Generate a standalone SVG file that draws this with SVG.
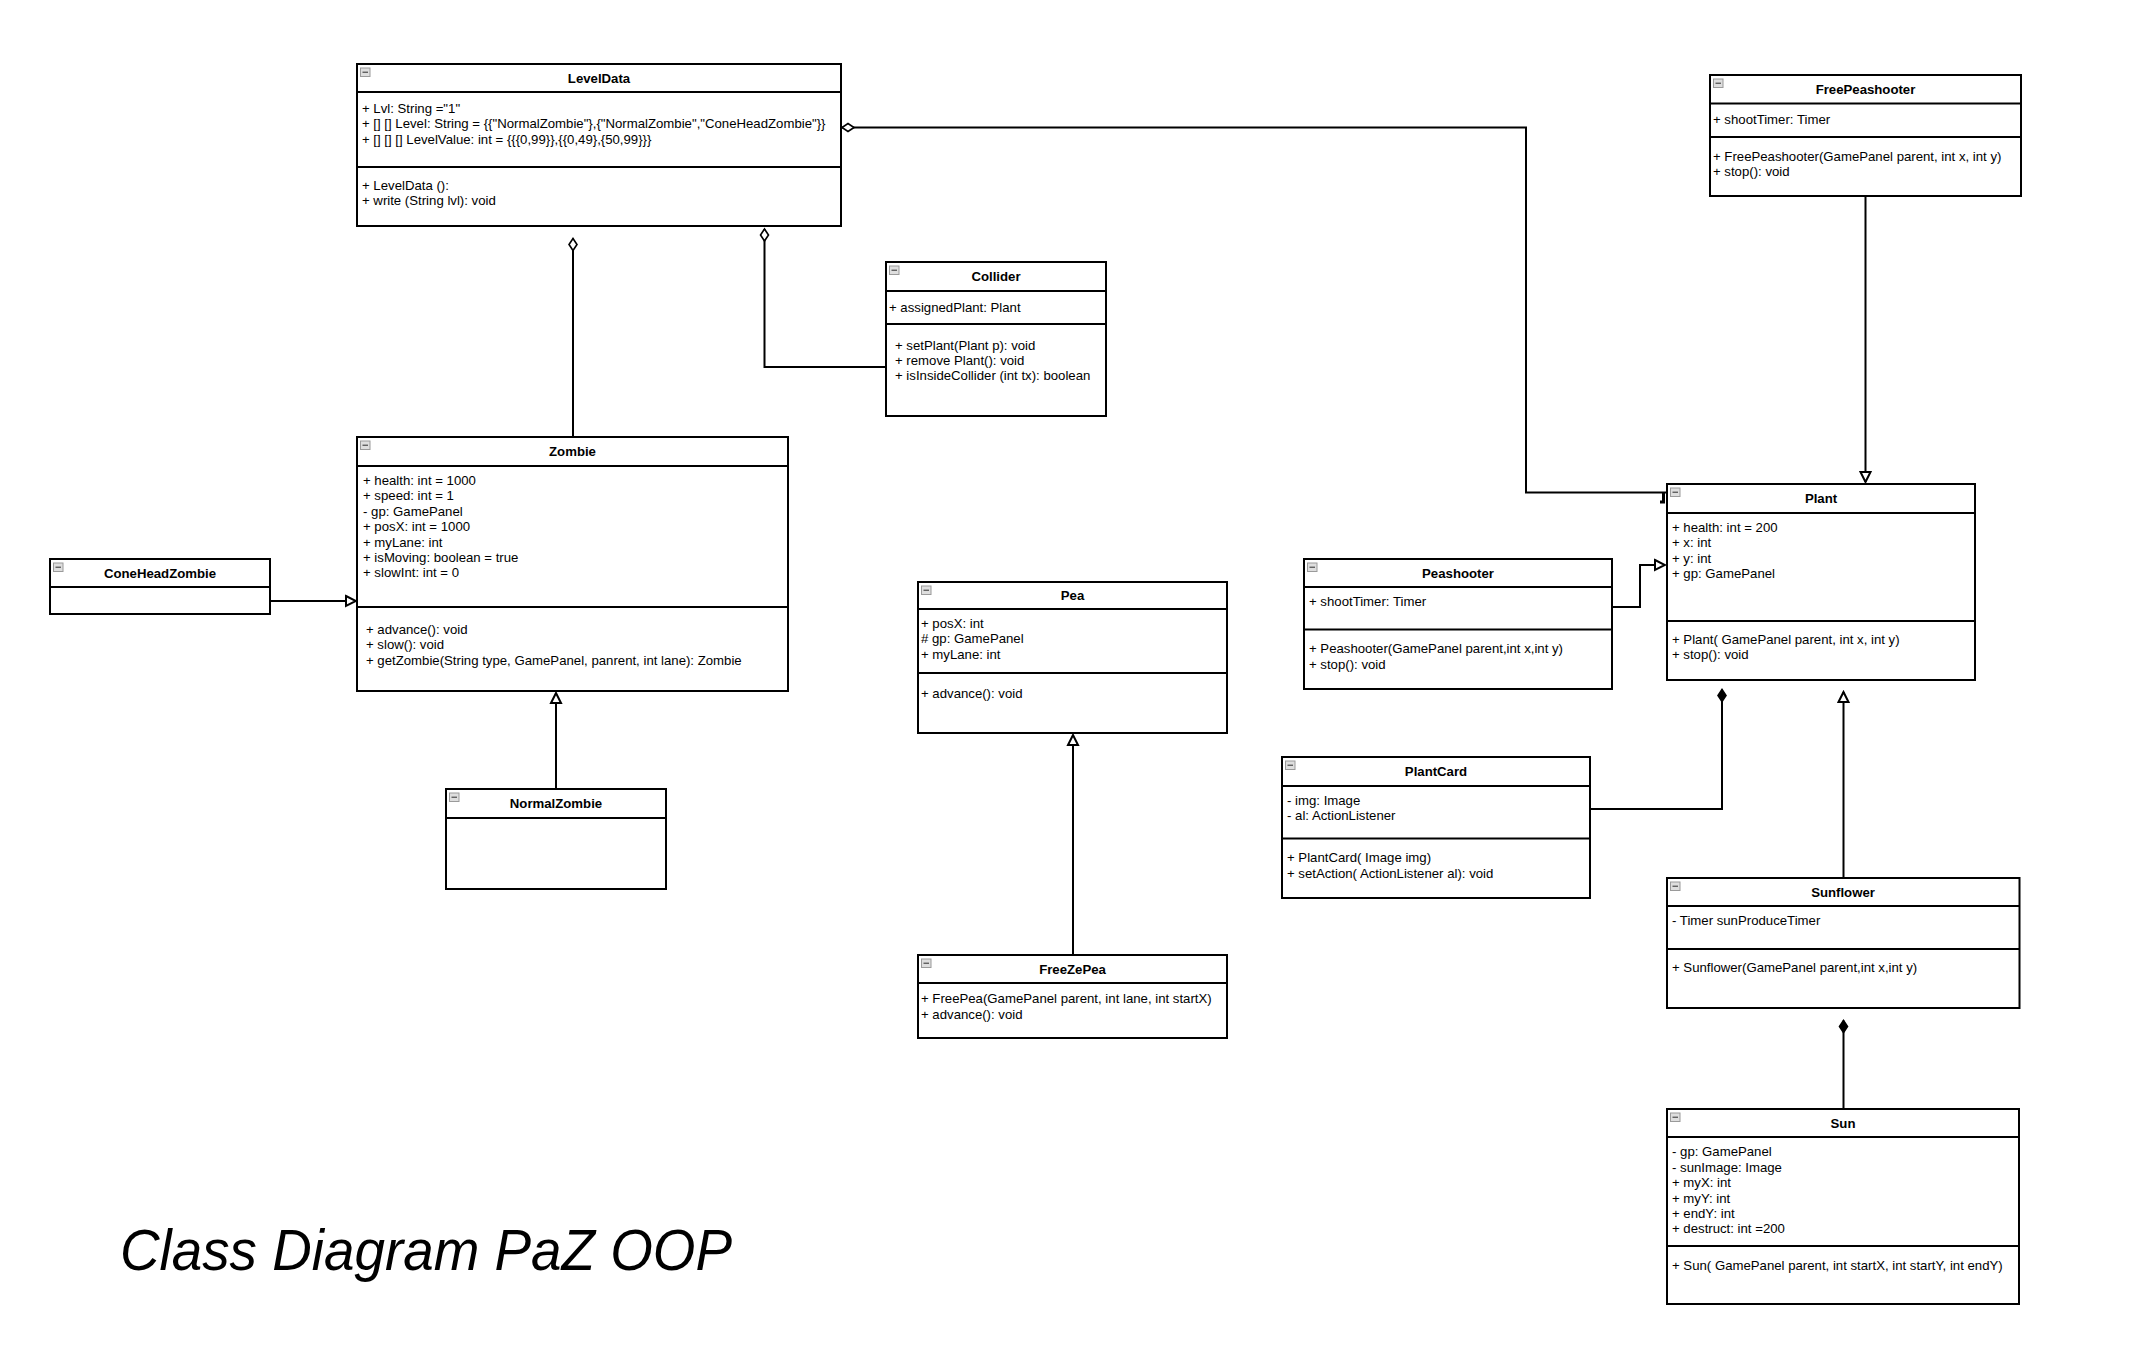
<svg xmlns="http://www.w3.org/2000/svg" width="2148" height="1372" viewBox="0 0 2148 1372">
<style>
.box{fill:#fff;stroke:#000;stroke-width:2}
.sep{stroke:#000;stroke-width:2}
.t{font-family:"Liberation Sans",Arial,sans-serif;font-size:13.2px;fill:#000}
.h{font-weight:bold;text-anchor:middle}
.edge{fill:none;stroke:#000;stroke-width:2}
.ttl{font-family:"Liberation Sans",Arial,sans-serif;font-size:57px;font-style:italic;fill:#000}
</style>
<defs>
<g id="icon"><rect x="0" y="0" width="9.5" height="8.5" fill="#dedede" stroke="#9a9a9a" stroke-width="1"/><line x1="2" y1="4.25" x2="7.5" y2="4.25" stroke="#555" stroke-width="1.3"/></g>
<marker id="tri" markerUnits="userSpaceOnUse" markerWidth="14" markerHeight="14" viewBox="0 0 14 14" refX="12" refY="7" orient="auto"><path d="M2,2 L12,7 L2,12 Z" fill="#fff" stroke="#000" stroke-width="2"/></marker>
<marker id="odia" markerUnits="userSpaceOnUse" markerWidth="16" markerHeight="12" viewBox="0 0 16 12" refX="14" refY="6" orient="auto"><path d="M2,6 L8,2 L14,6 L8,10 Z" fill="#fff" stroke="#000" stroke-width="1.6"/></marker>
<marker id="fdia" markerUnits="userSpaceOnUse" markerWidth="16" markerHeight="12" viewBox="0 0 16 12" refX="14" refY="6" orient="auto"><path d="M2,6 L8,2 L14,6 L8,10 Z" fill="#000" stroke="#000" stroke-width="1.6"/></marker>
</defs>
<rect width="2148" height="1372" fill="#fff"/>

<g id="connectors">
<path class="edge" d="M1666,492.5 H1526 V127.5 H842" marker-end="url(#odia)"/>
<path d="M1663.5,493 V503 M1660,502 H1665" fill="none" stroke="#000" stroke-width="3"/>
<path class="edge" d="M573,437 V238.5" marker-end="url(#odia)"/>
<path class="edge" d="M886,367 H764.5 V229" marker-end="url(#odia)"/>
<path class="edge" d="M270,601 H356" marker-end="url(#tri)"/>
<path class="edge" d="M556,789 V693" marker-end="url(#tri)"/>
<path class="edge" d="M1073,955 V735" marker-end="url(#tri)"/>
<path class="edge" d="M1865.5,196 V482" marker-end="url(#tri)"/>
<path class="edge" d="M1612,607 H1640 V565 H1665" marker-end="url(#tri)"/>
<path class="edge" d="M1843.5,878 V692" marker-end="url(#tri)"/>
<path class="edge" d="M1590,809 H1722 V689.5" marker-end="url(#fdia)"/>
<path class="edge" d="M1843.5,1109 V1020.5" marker-end="url(#fdia)"/>
</g>

<g id="LevelData">
<rect class="box" x="357" y="64" width="484" height="162"/>
<line class="sep" x1="357" y1="92" x2="841" y2="92"/>
<line class="sep" x1="357" y1="167" x2="841" y2="167"/>
<use href="#icon" x="360.5" y="68"/>
<text class="t h" x="599" y="82.5">LevelData</text>
<text class="t" x="362" y="112.8">+ Lvl: String ="1"</text>
<text class="t" x="362" y="128">+ [] [] Level: String = {{"NormalZombie"},{"NormalZombie","ConeHeadZombie"}}</text>
<text class="t" x="362" y="143.5">+ [] [] [] LevelValue: int = {{{0,99}},{{0,49},{50,99}}}</text>
<text class="t" x="362" y="189.5">+ LevelData ():</text>
<text class="t" x="362" y="205">+ write (String lvl): void</text>
</g>

<g id="Collider">
<rect class="box" x="886" y="262" width="220" height="154"/>
<line class="sep" x1="886" y1="291" x2="1106" y2="291"/>
<line class="sep" x1="886" y1="324" x2="1106" y2="324"/>
<use href="#icon" x="889.5" y="266"/>
<text class="t h" x="996" y="281">Collider</text>
<text class="t" x="889" y="312">+ assignedPlant: Plant</text>
<text class="t" x="895" y="350">+ setPlant(Plant p): void</text>
<text class="t" x="895" y="365">+ remove Plant(): void</text>
<text class="t" x="895" y="380">+ isInsideCollider (int tx): boolean</text>
</g>

<g id="Zombie">
<rect class="box" x="357" y="437" width="431" height="254"/>
<line class="sep" x1="357" y1="466" x2="788" y2="466"/>
<line class="sep" x1="357" y1="607" x2="788" y2="607"/>
<use href="#icon" x="360.5" y="441"/>
<text class="t h" x="572.5" y="456">Zombie</text>
<text class="t" x="363" y="485">+ health: int = 1000</text>
<text class="t" x="363" y="500.4">+ speed: int = 1</text>
<text class="t" x="363" y="515.8">- gp: GamePanel</text>
<text class="t" x="363" y="531.2">+ posX: int = 1000</text>
<text class="t" x="363" y="546.6">+ myLane: int</text>
<text class="t" x="363" y="562">+ isMoving: boolean = true</text>
<text class="t" x="363" y="577.4">+ slowInt: int = 0</text>
<text class="t" x="366" y="634">+ advance(): void</text>
<text class="t" x="366" y="649">+ slow(): void</text>
<text class="t" x="366" y="664.5">+ getZombie(String type, GamePanel, panrent, int lane): Zombie</text>
</g>

<g id="ConeHeadZombie">
<rect class="box" x="50" y="559" width="220" height="55"/>
<line class="sep" x1="50" y1="587" x2="270" y2="587"/>
<use href="#icon" x="53.5" y="563"/>
<text class="t h" x="160" y="577.5">ConeHeadZombie</text>
</g>

<g id="NormalZombie">
<rect class="box" x="446" y="789" width="220" height="100"/>
<line class="sep" x1="446" y1="818" x2="666" y2="818"/>
<use href="#icon" x="449.5" y="793"/>
<text class="t h" x="556" y="808">NormalZombie</text>
</g>

<g id="Pea">
<rect class="box" x="918" y="582" width="309" height="151"/>
<line class="sep" x1="918" y1="609" x2="1227" y2="609"/>
<line class="sep" x1="918" y1="673" x2="1227" y2="673"/>
<use href="#icon" x="921.5" y="586"/>
<text class="t h" x="1072.5" y="600">Pea</text>
<text class="t" x="921" y="627.5">+ posX: int</text>
<text class="t" x="921" y="643"># gp: GamePanel</text>
<text class="t" x="921" y="658.5">+ myLane: int</text>
<text class="t" x="921" y="698">+ advance(): void</text>
</g>

<g id="FreeZePea">
<rect class="box" x="918" y="955" width="309" height="83"/>
<line class="sep" x1="918" y1="983" x2="1227" y2="983"/>
<use href="#icon" x="921.5" y="959"/>
<text class="t h" x="1072.5" y="973.5">FreeZePea</text>
<text class="t" x="921" y="1003">+ FreePea(GamePanel parent, int lane, int startX)</text>
<text class="t" x="921" y="1018.5">+ advance(): void</text>
</g>

<g id="FreePeashooter">
<rect class="box" x="1710" y="75" width="311" height="121"/>
<line class="sep" x1="1710" y1="103.5" x2="2021" y2="103.5"/>
<line class="sep" x1="1710" y1="137" x2="2021" y2="137"/>
<use href="#icon" x="1713.5" y="79"/>
<text class="t h" x="1865.5" y="93.5">FreePeashooter</text>
<text class="t" x="1713" y="124">+ shootTimer: Timer</text>
<text class="t" x="1713" y="160.5">+ FreePeashooter(GamePanel parent, int x, int y)</text>
<text class="t" x="1713" y="176">+ stop(): void</text>
</g>

<g id="Plant">
<rect class="box" x="1667" y="484" width="308" height="196"/>
<line class="sep" x1="1667" y1="513" x2="1975" y2="513"/>
<line class="sep" x1="1667" y1="621" x2="1975" y2="621"/>
<use href="#icon" x="1670.5" y="488"/>
<text class="t h" x="1821" y="503">Plant</text>
<text class="t" x="1672" y="532.2">+ health: int = 200</text>
<text class="t" x="1672" y="547.4">+ x: int</text>
<text class="t" x="1672" y="562.6">+ y: int</text>
<text class="t" x="1672" y="578">+ gp: GamePanel</text>
<text class="t" x="1672" y="643.5">+ Plant( GamePanel parent, int x, int y)</text>
<text class="t" x="1672" y="659">+ stop(): void</text>
</g>

<g id="Peashooter">
<rect class="box" x="1304" y="559" width="308" height="130"/>
<line class="sep" x1="1304" y1="587" x2="1612" y2="587"/>
<line class="sep" x1="1304" y1="629.5" x2="1612" y2="629.5"/>
<use href="#icon" x="1307.5" y="563"/>
<text class="t h" x="1458" y="577.5">Peashooter</text>
<text class="t" x="1309" y="606">+ shootTimer: Timer</text>
<text class="t" x="1309" y="653">+ Peashooter(GamePanel parent,int x,int y)</text>
<text class="t" x="1309" y="668.5">+ stop(): void</text>
</g>

<g id="PlantCard">
<rect class="box" x="1282" y="757" width="308" height="141"/>
<line class="sep" x1="1282" y1="786" x2="1590" y2="786"/>
<line class="sep" x1="1282" y1="838.5" x2="1590" y2="838.5"/>
<use href="#icon" x="1285.5" y="761"/>
<text class="t h" x="1436" y="776">PlantCard</text>
<text class="t" x="1287" y="804.5">- img: Image</text>
<text class="t" x="1287" y="820">- al: ActionListener</text>
<text class="t" x="1287" y="862">+ PlantCard( Image img)</text>
<text class="t" x="1287" y="877.5">+ setAction( ActionListener al): void</text>
</g>

<g id="Sunflower">
<rect class="box" x="1667" y="878" width="352.5" height="130"/>
<line class="sep" x1="1667" y1="906" x2="2019.5" y2="906"/>
<line class="sep" x1="1667" y1="949" x2="2019.5" y2="949"/>
<use href="#icon" x="1670.5" y="882"/>
<text class="t h" x="1843" y="896.5">Sunflower</text>
<text class="t" x="1672" y="925">- Timer sunProduceTimer</text>
<text class="t" x="1672" y="972">+ Sunflower(GamePanel parent,int x,int y)</text>
</g>

<g id="Sun">
<rect class="box" x="1667" y="1109" width="352" height="195"/>
<line class="sep" x1="1667" y1="1137" x2="2019" y2="1137"/>
<line class="sep" x1="1667" y1="1246" x2="2019" y2="1246"/>
<use href="#icon" x="1670.5" y="1113"/>
<text class="t h" x="1843" y="1127.5">Sun</text>
<text class="t" x="1672" y="1156">- gp: GamePanel</text>
<text class="t" x="1672" y="1171.5">- sunImage: Image</text>
<text class="t" x="1672" y="1187">+ myX: int</text>
<text class="t" x="1672" y="1202.5">+ myY: int</text>
<text class="t" x="1672" y="1218">+ endY: int</text>
<text class="t" x="1672" y="1233">+ destruct: int =200</text>
<text class="t" x="1672" y="1269.5">+ Sun( GamePanel parent, int startX, int startY, int endY)</text>
</g>

<text class="ttl" x="120" y="1270" textLength="612" lengthAdjust="spacingAndGlyphs">Class Diagram PaZ OOP</text>
</svg>
